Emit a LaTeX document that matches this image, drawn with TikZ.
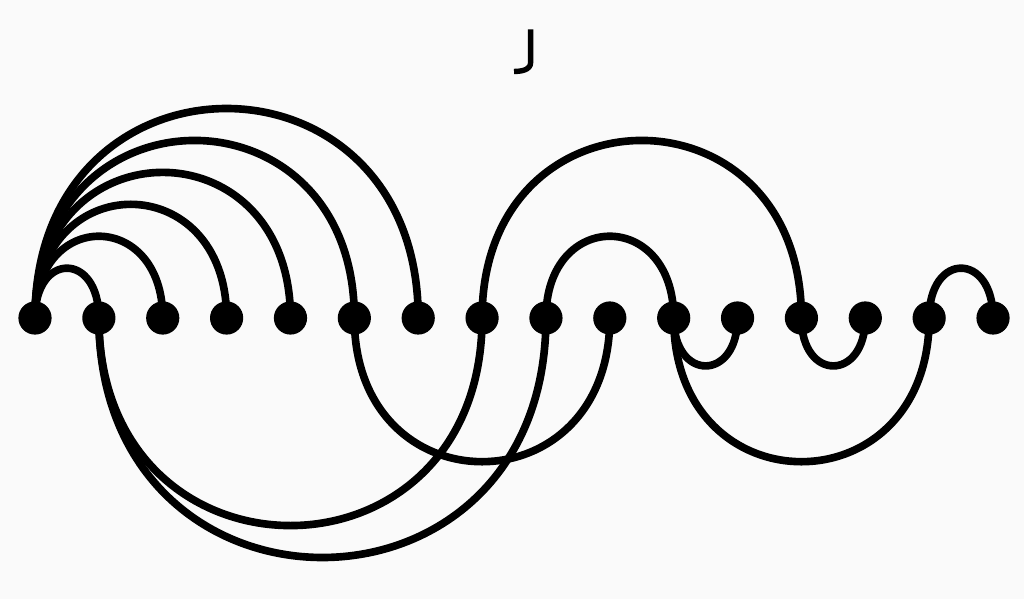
\documentclass[tikz,border=0pt]{standalone}
\usepackage{tikz}

\tikzset{
  dot/.style={circle,fill=black,inner sep=0pt,minimum size=0.52cm},
  link/.style={line width=3.4pt,black}
}

\begin{document}
\begin{tikzpicture}
    \useasboundingbox[fill=white!98!black] (-0.548,-4.40) rectangle (15.485,4.979);
    % points on the line
    \foreach \i in {1,...,16}{
      \node[dot] (p\i) at (\i-1,0) {};
    }
    % arcs above
    \foreach \a/\b in {1/2,1/3,1/4,1/5,1/6,1/7,8/13,9/11,15/16}{
      \pgfmathsetmacro\c{4/3*((\b-\a)/2+0.28)}
      \draw[link] (p\a.center) .. controls +(0,\c) and +(0,\c) .. (p\b.center);
    }
    % arcs below
    \foreach \a/\b in {2/8,2/9,6/10,11/12,13/14,11/15}{
      \pgfmathsetmacro\c{4/3*((\b-\a)/2+0.25)}
      \draw[link] (p\a.center) .. controls +(0,-\c) and +(0,-\c) .. (p\b.center);
    }
    % mark at the top
    \draw[line width=2.4pt] (7.76,4.52) -- (7.76,4.0) to[out=-90,in=0] (7.5,3.86);
  \end{tikzpicture}
\end{document}
